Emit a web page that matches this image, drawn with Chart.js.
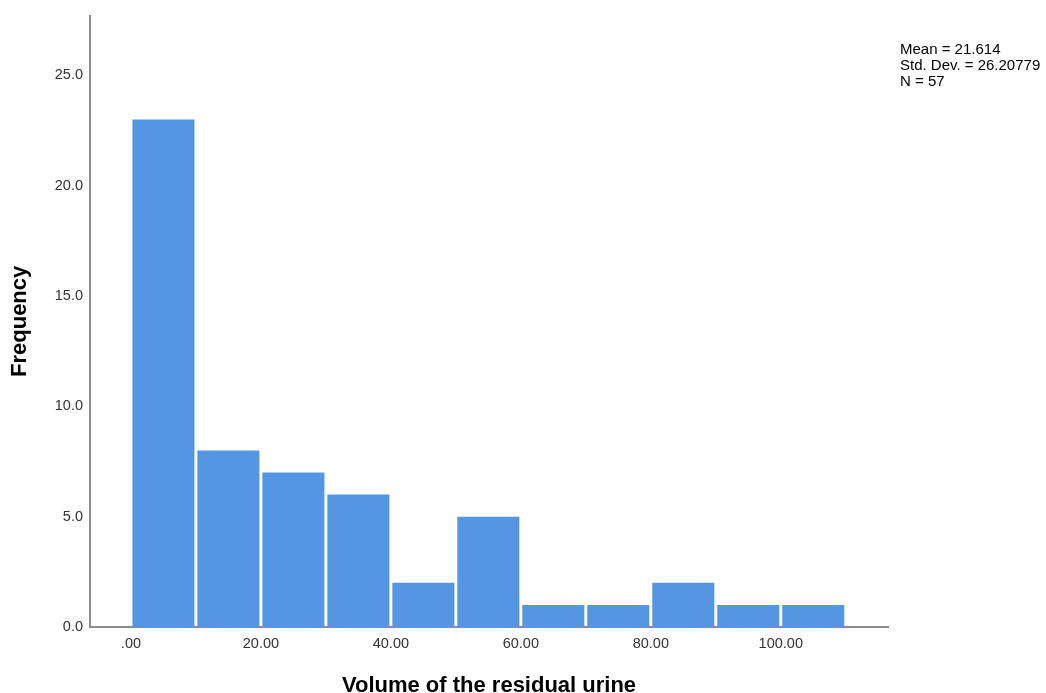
<!DOCTYPE html>
<html lang="en">
<head>
<meta charset="utf-8">
<title>Volume of the residual urine</title>
<script src="https://cdn.jsdelivr.net/npm/chart.js@4"></script>
<style>
  html, body { margin: 0; padding: 0; background: #fff; }
  #wrap { width: 1046px; height: 693px; position: relative; }
</style>
</head>
<body>
<div id="wrap"><canvas id="hist"></canvas></div>
<script>
// bin centres (width 10) and frequencies
const binCentres = [5, 15, 25, 35, 45, 55, 65, 75, 85, 95, 105];
const frequencies = [23, 8, 7, 6, 2, 5, 1, 1, 2, 1, 1];
const xTickValues = [0, 20, 40, 60, 80, 100];
const yTickValues = [0, 5, 10, 15, 20, 25];
const statLines = ['Mean = 21.614', 'Std. Dev. = 26.20779', 'N = 57'];

// stats text in the top right corner
const statsBox = {
    id: 'statsBox',
    afterDraw(chart) {
        const ctx = chart.ctx;
        ctx.save();
        ctx.fillStyle = '#000';
        ctx.font = '15px "Liberation Sans", Arial, sans-serif';
        ctx.textBaseline = 'alphabetic';
        statLines.forEach((s, i) => ctx.fillText(s, 900, 54 + i * 16));
        ctx.restore();
    }
};

const axisFont = { family: '"Liberation Sans", Arial, sans-serif', size: 14.5 };
const titleFont = { family: '"Liberation Sans", Arial, sans-serif', size: 22, weight: 'bold' };

new Chart(document.getElementById('hist'), {
    type: 'bar',
    data: {
        datasets: [{
            data: binCentres.map((x, i) => ({ x: x, y: frequencies[i] })),
            backgroundColor: '#5596e3',
            borderWidth: 0,
            barPercentage: 0.955,
            categoryPercentage: 1
        }]
    },
    options: {
        responsive: true,
        maintainAspectRatio: false,
        animation: false,
        layout: { padding: { left: 7, right: 158, top: 10, bottom: 0 } },
        plugins: { legend: { display: false }, tooltip: { enabled: false } },
        scales: {
            x: {
                type: 'linear',
                offset: false,
                min: -6.3,
                max: 116.5,
                afterBuildTicks: (s) => { s.ticks = xTickValues.map(v => ({ value: v })); },
                afterFit: (s) => { s.height = 66; },
                ticks: {
                    color: '#333',
                    font: axisFont,
                    padding: 8,
                    maxRotation: 0,
                    callback: (v) => v === 0 ? '.00' : v.toFixed(2)
                },
                grid: { display: false, drawTicks: false },
                border: { display: true, color: '#8c8c8c', width: 2 },
                title: { display: true, text: 'Volume of the residual urine', color: '#000', font: titleFont, padding: { top: 0, bottom: -6 } }
            },
            y: {
                min: 0,
                max: 27.7,
                afterBuildTicks: (s) => { s.ticks = yTickValues.map(v => ({ value: v })); },
                afterFit: (s) => { s.width = 83; },
                ticks: {
                    color: '#333',
                    font: axisFont,
                    padding: 7,
                    callback: (v) => v.toFixed(1)
                },
                grid: { display: false, drawTicks: false },
                border: { display: true, color: '#8c8c8c', width: 2 },
                title: { display: true, text: 'Frequency', color: '#000', font: titleFont, padding: { top: 0, bottom: 0 } }
            }
        }
    },
    plugins: [statsBox]
});
</script>
</body>
</html>
